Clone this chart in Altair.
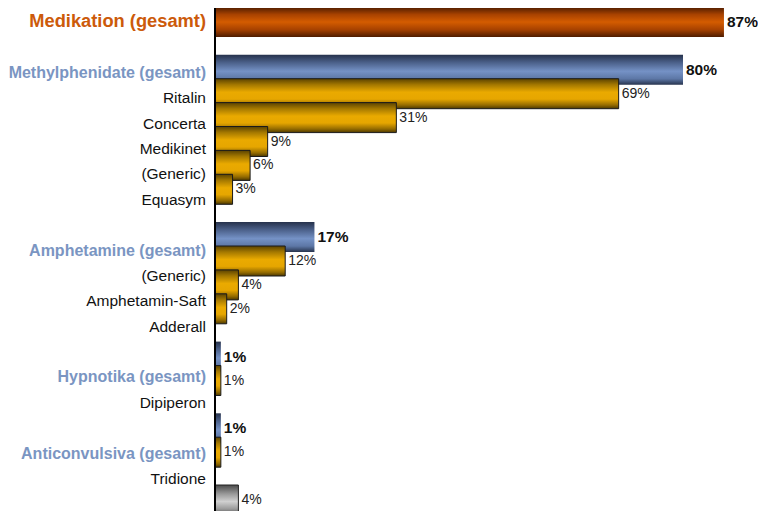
import altair as alt
import pandas as pd

# ---- data ----
labels = ["Medikation (gesamt)", "Methylphenidate (gesamt)", "Ritalin", "Concerta",
          "Medikinet", "(Generic)", "Equasym", "Amphetamine (gesamt)", "(Generic)",
          "Amphetamin-Saft", "Adderall", "Hypnotika (gesamt)", "Dipiperon",
          "Anticonvulsiva (gesamt)", "Tridione", ""]
rows = [0, 2, 3, 4, 5, 6, 7, 9, 10, 11, 12, 14, 15, 17, 18, 20]
values = [87, 80, 69, 31, 9, 6, 3, 17, 12, 4, 2, 1, 1, 1, 1, 4]
kinds = ["total", "group", "item", "item", "item", "item", "item", "group", "item",
         "item", "item", "group", "item", "group", "item", "other"]

df = pd.DataFrame({"label": labels, "row": rows, "value": values, "kind": kinds})
df["text"] = df["value"].astype(str) + "%"

W, H = 750, 503

def grad(stops):
    return {"gradient": "linear", "x1": 0, "x2": 0, "y1": 0, "y2": 1,
            "stops": [{"offset": o, "color": c} for o, c in stops]}

BROWN = grad([(0, "#4e1c00"), (0.25, "#a84200"), (0.5, "#d45c00"), (0.75, "#a84200"), (1, "#4e1c00")])
BLUE = grad([(0, "#26324c"), (0.25, "#4a5f88"), (0.55, "#7592c6"), (0.8, "#5d77a6"), (1, "#26324c")])
ORANGE = grad([(0, "#5a4200"), (0.2, "#a47800"), (0.45, "#eaaa00"), (0.68, "#e6a600"), (0.88, "#946b00"), (1, "#4c3800")])
GRAY = grad([(0, "#4a4a4a"), (0.3, "#9a9a9a"), (0.55, "#d0d0d0"), (0.8, "#9a9a9a"), (1, "#4a4a4a")])

xs = alt.Scale(domain=[0, 100], range=[207, 792], padding=0, nice=False)
ybar = alt.Scale(domain=[0, 20], range=[14, 492], padding=0, nice=False)
ylab = alt.Scale(domain=[0, 18], range=[14, 471], padding=0, nice=False)

base = alt.Chart(df)
X = alt.X("value:Q", scale=xs, axis=None)
YB = alt.Y("row:Q", scale=ybar, axis=None)
YL = alt.Y("row:Q", scale=ylab, axis=None)

def bars(kind, fill, stroke=None):
    kw = dict(orient="horizontal", size=30, fill=fill)
    if stroke:
        kw.update(stroke=stroke, strokeWidth=1)
    else:
        kw.update(strokeWidth=0)
    return base.transform_filter(alt.datum.kind == kind).mark_bar(**kw).encode(x=X, y=YB)

bar_layer = alt.layer(
    bars("total", BROWN),
    bars("group", BLUE),
    bars("item", ORANGE, "#1a1a1a"),
    bars("other", GRAY, "#222222"),
    base.transform_filter("datum.kind == 'total' || datum.kind == 'group'").mark_text(
        align="left", baseline="middle", dx=3, font="Liberation Sans",
        fontWeight="bold", fontSize=15.5, color="#111111"
    ).encode(x=X, y=YB, text="text:N"),
    base.transform_filter("datum.kind == 'item' || datum.kind == 'other'").mark_text(
        align="left", baseline="middle", dx=3, font="Liberation Sans",
        fontSize=14, color="#222222"
    ).encode(x=X, y=YB, text="text:N"),
)

def lab(kind, size, color, weight="normal"):
    return base.transform_filter(alt.datum.kind == kind).mark_text(
        align="right", baseline="middle", dx=-9, font="Liberation Sans",
        fontSize=size, fontWeight=weight, color=color
    ).encode(x=alt.datum(0, scale=xs), y=YL, text="label:N")

label_layer = alt.layer(
    lab("total", 18.3, "#CC5A0A", "bold"),
    lab("group", 16, "#7A95C2", "bold"),
    lab("item", 15.5, "#111111"),
)

axis_line = alt.Chart(df).mark_rule(color="#000000", strokeWidth=1.5).encode(
    x=alt.datum(0, scale=xs)
)

chart = alt.layer(bar_layer, label_layer, axis_line).resolve_scale(y="independent").properties(
    width=W, height=H, autosize=alt.AutoSizeParams(type="none"), padding=0
).configure_view(stroke=None)

chart.save("out.html", embed_options={"renderer": "svg", "actions": False})
